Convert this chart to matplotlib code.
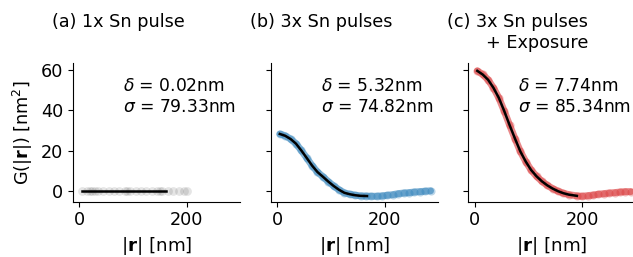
import numpy as np
import matplotlib
matplotlib.use('Agg')
import matplotlib.pyplot as plt

plt.rcParams['font.family'] = ['DejaVu Sans']
plt.rcParams['font.size'] = 12.7

# 标题与拟合参数
titles = ['(a) 1x Sn pulse', '(b) 3x Sn pulses', '(c) 3x Sn pulses\n+ Exposure']
deltas = [0.02, 5.32, 7.74]
sigmas = [79.33, 74.82, 85.34]
colors = ['black', '#1f77b4', '#d62728']

# (a) 数据点与拟合
r_a = [5, 15, 20, 25, 30, 35, 45, 55, 65, 75, 85, 90, 95, 105, 115, 125, 135, 145, 150, 155,
       165, 175, 185, 195, 200]
g_a = [0.0] * len(r_a)
fit_r_a = [5, 40, 80, 120, 162]
fit_g_a = [0.0, 0.0, 0.0, 0.0, 0.0]

# (b) 数据点与拟合
r_b = [5, 15, 25, 35, 45, 55, 65, 75, 85, 95, 105, 115, 125, 135, 145, 155, 165,
       175, 185, 195, 205, 215, 225, 235, 245, 255, 265, 275, 285]
g_b = [28.3, 27.4, 25.8, 23.5, 20.1, 16.4, 12.6, 9.4, 7.1, 4.7, 2.5, 0.6, -0.9, -1.6, -2.1, -2.4, -2.5,
       -2.6, -2.6, -2.4, -2.1, -1.8, -1.3, -1.0, -0.8, -0.5, -0.3, -0.1, 0.1]
fit_r_b = [5, 15, 25, 35, 45, 55, 65, 75, 85, 95, 105, 115, 125, 135, 145, 155, 167]
fit_g_b = [28.3, 27.4, 25.8, 23.5, 20.1, 16.4, 12.6, 9.4, 7.1, 4.7, 2.5, 0.6, -0.9, -1.6, -2.1, -2.4, -2.5]

# (c) 数据点与拟合
r_c = [5, 15, 25, 35, 45, 55, 65, 75, 85, 95, 105, 115, 125, 135, 145, 155, 165, 175, 190,
       200, 210, 220, 230, 240, 250, 260, 270, 280, 290]
g_c = [59.6, 57.8, 55.2, 51.2, 46.2, 39.7, 32.7, 26.0, 19.6, 14.6, 10.4, 7.3, 4.8, 2.8, 1.2, -0.1, -1.1, -1.8, -2.4,
       -2.6, -2.3, -2.0, -1.6, -1.3, -1.0, -0.8, -0.5, -0.3, -0.3]
fit_r_c = [5, 15, 25, 35, 45, 55, 65, 75, 85, 95, 105, 115, 125, 135, 145, 155, 165, 175, 190]
fit_g_c = [59.6, 57.8, 55.2, 51.2, 46.2, 39.7, 32.7, 26.0, 19.6, 14.6, 10.4, 7.3, 4.8, 2.8, 1.2, -0.1, -1.1, -1.8, -2.4]

data = [(r_a, g_a, fit_r_a, fit_g_a), (r_b, g_b, fit_r_b, fit_g_b), (r_c, g_c, fit_r_c, fit_g_c)]

fig = plt.figure(figsize=(6.33, 2.57), dpi=100)
lefts = [0.1149, 0.4278, 0.7398]

for i in range(3):
    ax = fig.add_axes([lefts[i], 0.2152, 0.2643, 0.5397])
    r, g, fr, fg = data[i]
    if i == 0:
        ax.scatter(r, g, s=40, color=colors[i], alpha=0.1, linewidths=0)
    else:
        ax.plot(r, g, color=colors[i], lw=5, alpha=0.55, solid_capstyle='round')
        ax.scatter(r, g, s=34, color=colors[i], alpha=0.3, linewidths=0)
    ax.plot(fr, fg, color='black', lw=1.8)

    ax.set_xlim(-11.7, 299)
    ax.set_ylim(-5.3, 63.5)
    ax.set_xticks([0, 200])
    ax.set_yticks([0, 20, 40, 60])
    ax.spines['top'].set_visible(False)
    ax.spines['right'].set_visible(False)
    ax.set_xlabel(r'$|\mathbf{r}|$ [nm]', fontsize=13.2)
    if i == 0:
        ax.set_ylabel(r'G($|\mathbf{r}|$) [nm$^2$]', fontsize=12.7)
    else:
        ax.set_yticklabels([])

    ax.text(-0.1255, 1.358, titles[i], transform=ax.transAxes, ha='left', va='top',
            multialignment='right')
    ax.text(0.299, 0.899, '$\\delta$ = %.2fnm\n$\\sigma$ = %.2fnm' % (deltas[i], sigmas[i]),
            transform=ax.transAxes, ha='left', va='top', fontsize=12.3)

fig.savefig('out.png', dpi=100)
